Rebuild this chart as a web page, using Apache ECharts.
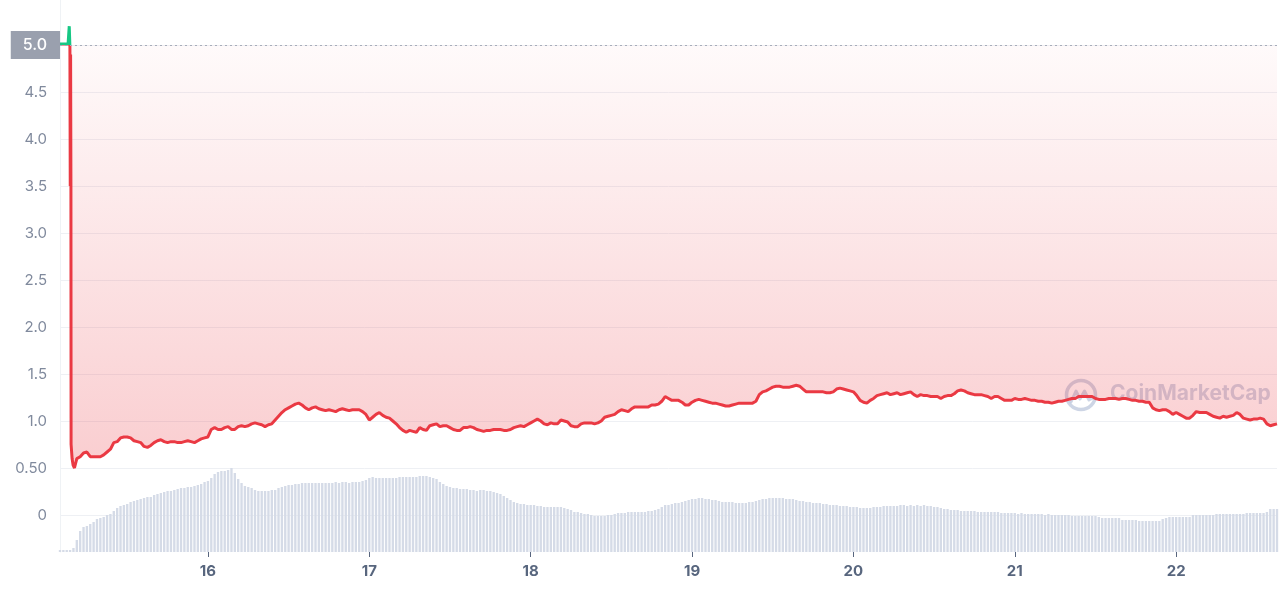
<!DOCTYPE html>
<html>
<head>
<meta charset="utf-8">
<script src="https://cdn.jsdelivr.net/npm/echarts@6/dist/echarts.min.js"></script>
<style>
  html, body { margin: 0; padding: 0; background: #ffffff; }
  #chart { width: 1280px; height: 590px; }
</style>
</head>
<body>
<div id="chart"></div>
<script>
// ---- Data (30-minute steps starting on the 15th at 02:00) ----
const startDay = 15;
const startMinutes = 120;      // 02:00
const stepMinutes = 30;
const pointCount = 363;

// Y-axis tick labels (0 .. 5.0 in steps of 0.5)
const yTickLabels = ['0', '0.50', '1.0', '1.5', '2.0', '2.5', '3.0', '3.5', '4.0', '4.5', '5.0'];

// Opening spike (fractional step positions) and price
const openingX = [0, 2.4, 2.75, 2.95, 3.05, 3.15, 3.25, 3.3, 3.6, 3.9, 4.3];
const openingP = [5.01, 5.01, 5.2, 4.98, 3.5, 4.9, 3.5, 0.75, 0.6, 0.53, 0.5];

// Regular price values, from step index 5 to 362
const priceStart = 5;
const priceValues = [
  0.60,0.62,0.66,0.67,0.62,0.62,0.62,0.62,0.64,0.67,
  0.70,0.77,0.78,0.82,0.83,0.83,0.82,0.79,0.78,0.77,
  0.73,0.72,0.74,0.77,0.79,0.80,0.78,0.77,0.78,0.78,
  0.77,0.77,0.78,0.79,0.78,0.77,0.79,0.81,0.82,0.83,
  0.91,0.93,0.91,0.91,0.93,0.94,0.91,0.91,0.94,0.95,
  0.94,0.95,0.97,0.98,0.97,0.96,0.94,0.96,0.97,1.01,
  1.05,1.09,1.12,1.14,1.16,1.18,1.19,1.17,1.14,1.12,
  1.14,1.15,1.13,1.12,1.11,1.12,1.11,1.10,1.12,1.13,
  1.12,1.11,1.12,1.12,1.12,1.10,1.07,1.01,1.04,1.07,
  1.09,1.06,1.04,1.03,1.00,0.97,0.93,0.90,0.88,0.90,
  0.89,0.88,0.93,0.91,0.90,0.95,0.96,0.97,0.94,0.95,
  0.95,0.93,0.91,0.90,0.90,0.93,0.93,0.94,0.93,0.91,
  0.90,0.89,0.90,0.90,0.91,0.91,0.91,0.90,0.90,0.91,
  0.93,0.94,0.95,0.94,0.96,0.98,1.00,1.02,1.00,0.97,
  0.96,0.98,0.97,0.97,1.01,1.00,0.99,0.95,0.94,0.94,
  0.97,0.98,0.98,0.98,0.97,0.98,1.00,1.04,1.05,1.06,
  1.07,1.10,1.12,1.11,1.10,1.13,1.15,1.15,1.15,1.15,
  1.15,1.17,1.17,1.18,1.21,1.26,1.24,1.22,1.22,1.22,
  1.20,1.17,1.17,1.20,1.22,1.23,1.22,1.21,1.20,1.19,
  1.19,1.18,1.17,1.16,1.16,1.17,1.18,1.19,1.19,1.19,
  1.19,1.19,1.21,1.28,1.31,1.32,1.34,1.36,1.37,1.37,
  1.36,1.36,1.36,1.37,1.38,1.37,1.34,1.31,1.31,1.31,
  1.31,1.31,1.31,1.30,1.30,1.31,1.34,1.35,1.34,1.33,
  1.32,1.31,1.27,1.22,1.20,1.19,1.22,1.24,1.27,1.28,
  1.29,1.30,1.28,1.29,1.30,1.28,1.29,1.30,1.31,1.28,
  1.26,1.28,1.27,1.27,1.26,1.26,1.26,1.24,1.26,1.27,
  1.27,1.29,1.32,1.33,1.32,1.30,1.29,1.28,1.28,1.28,
  1.27,1.26,1.24,1.26,1.26,1.24,1.22,1.22,1.22,1.24,
  1.23,1.23,1.24,1.23,1.22,1.22,1.21,1.21,1.20,1.20,
  1.19,1.20,1.21,1.21,1.22,1.23,1.24,1.24,1.26,1.26,
  1.26,1.26,1.26,1.24,1.23,1.23,1.23,1.24,1.24,1.24,
  1.23,1.24,1.24,1.23,1.22,1.22,1.21,1.21,1.20,1.20,
  1.14,1.12,1.11,1.12,1.12,1.10,1.07,1.09,1.07,1.05,
  1.03,1.03,1.06,1.10,1.09,1.09,1.09,1.07,1.05,1.04,
  1.03,1.05,1.04,1.05,1.06,1.09,1.07,1.03,1.02,1.01,
  1.02,1.02,1.03,1.02,0.97,0.95,0.96,0.97
];

// Volume (relative units), one bar per step index 0..362
const volumeValues = [
  0.2,0.2,0.2,0.2,0.4,1.2,2.1,2.5,2.6,2.8,
  3.0,3.3,3.4,3.5,3.7,3.8,4.1,4.4,4.6,4.7,
  4.8,5.0,5.1,5.2,5.3,5.4,5.5,5.5,5.7,5.8,
  5.9,6.0,6.1,6.1,6.2,6.3,6.4,6.4,6.5,6.5,
  6.6,6.7,6.8,7.0,7.1,7.4,7.8,8.0,8.1,8.1,
  8.2,8.4,7.9,7.3,6.9,6.6,6.5,6.4,6.2,6.1,
  6.1,6.1,6.1,6.2,6.2,6.4,6.5,6.6,6.7,6.7,
  6.8,6.8,6.9,6.9,6.9,6.9,6.9,6.9,6.9,6.9,
  6.9,6.9,7.0,6.9,7.0,7.0,6.9,7.0,7.0,7.0,
  7.1,7.2,7.4,7.5,7.4,7.4,7.4,7.4,7.4,7.4,
  7.4,7.5,7.5,7.5,7.5,7.5,7.5,7.6,7.6,7.6,
  7.5,7.4,7.3,7.0,6.8,6.6,6.5,6.4,6.4,6.3,
  6.3,6.3,6.2,6.2,6.1,6.2,6.2,6.1,6.1,6.0,
  5.9,5.8,5.6,5.4,5.2,5.0,4.9,4.8,4.8,4.7,
  4.7,4.7,4.6,4.6,4.5,4.5,4.5,4.5,4.5,4.5,
  4.4,4.3,4.2,4.0,4.0,3.9,3.8,3.8,3.7,3.6,
  3.6,3.6,3.6,3.7,3.7,3.8,3.9,3.9,3.9,4.0,
  4.0,4.0,4.0,4.0,4.0,4.1,4.1,4.2,4.3,4.5,
  4.7,4.7,4.8,4.9,4.9,5.0,5.1,5.2,5.3,5.3,
  5.4,5.4,5.3,5.3,5.2,5.2,5.1,5.0,5.0,5.0,
  5.0,4.9,4.9,4.9,4.9,5.0,5.0,5.1,5.2,5.3,
  5.3,5.4,5.4,5.4,5.4,5.4,5.3,5.3,5.3,5.2,
  5.1,5.1,5.0,5.0,4.9,4.9,4.9,4.8,4.8,4.7,
  4.7,4.7,4.6,4.6,4.6,4.5,4.5,4.5,4.4,4.4,
  4.4,4.4,4.5,4.5,4.5,4.6,4.6,4.6,4.6,4.6,
  4.7,4.7,4.6,4.7,4.6,4.7,4.6,4.7,4.6,4.6,
  4.5,4.5,4.4,4.3,4.3,4.2,4.2,4.2,4.1,4.1,
  4.1,4.1,4.1,4.0,4.0,4.0,4.0,4.0,4.0,4.0,
  3.9,3.9,3.9,3.9,3.9,3.8,3.9,3.8,3.8,3.8,
  3.8,3.8,3.8,3.7,3.8,3.7,3.7,3.7,3.7,3.7,
  3.7,3.6,3.6,3.6,3.6,3.6,3.6,3.6,3.6,3.5,
  3.4,3.4,3.4,3.4,3.4,3.4,3.2,3.2,3.2,3.2,
  3.2,3.1,3.1,3.1,3.1,3.1,3.1,3.1,3.3,3.4,
  3.5,3.5,3.5,3.5,3.5,3.5,3.5,3.7,3.7,3.7,
  3.7,3.7,3.7,3.7,3.8,3.8,3.8,3.8,3.8,3.8,
  3.8,3.8,3.8,3.9,3.9,3.9,3.9,3.9,3.9,4.0,
  4.3,4.3,4.3
];

// Category labels: "DD HH:MM"
const categories = [];
for (let i = 0; i < pointCount; i++) {
  const m = startMinutes + i * stepMinutes;
  const d = startDay + Math.floor(m / 1440);
  const mm = m % 1440;
  const hh = String(Math.floor(mm / 60)).padStart(2, '0');
  const mi = String(mm % 60).padStart(2, '0');
  categories.push(d + ' ' + hh + ':' + mi);
}
const isDayStart = (idx, val) => String(val).endsWith('00:00');

const priceData = openingX.map((x, k) => [x, openingP[k]])
  .concat(priceValues.map((p, k) => [k + priceStart, p]));

const FONT = 'Inter, "Noto Sans", sans-serif';
const chart = echarts.init(document.getElementById('chart'), null, { renderer: 'canvas' });

const wmColor = 'rgba(192,202,222,0.8)';

const option = {
  animation: false,
  backgroundColor: '#ffffff',
  grid: [
    { left: 60, right: 3, top: 0, bottom: 38 },
    { left: 60, right: 3, top: 45, bottom: 75 }
  ],
  xAxis: [
    {
      type: 'category', gridIndex: 0, data: categories, boundaryGap: false,
      axisLine: { show: false },
      axisTick: { show: true, interval: isDayStart, length: 5, lineStyle: { color: '#58667e', width: 1 } },
      axisLabel: {
        interval: isDayStart,
        formatter: (v) => String(v).split(' ')[0],
        color: '#58667e', fontSize: 15, fontWeight: 'bold', margin: 12, fontFamily: FONT
      },
      splitLine: { show: false }
    },
    { type: 'value', gridIndex: 1, min: 0, max: pointCount - 1, show: false }
  ],
  yAxis: [
    {
      type: 'value', gridIndex: 0, min: 0, max: 55.2,
      axisLabel: { show: false }, axisTick: { show: false },
      splitLine: { show: false },
      axisLine: { show: true, lineStyle: { color: '#eff2f5' } }
    },
    {
      type: 'value', gridIndex: 1, min: 0, max: 5, interval: 0.5,
      axisLine: { show: false }, axisTick: { show: false },
      splitLine: { show: true, lineStyle: { color: '#eef0f4', width: 1 } },
      axisLabel: {
        showMaxLabel: false,
        formatter: (v) => yTickLabels[Math.round(v / 0.5)],
        color: '#808a9d', fontSize: 15, margin: 13, fontFamily: FONT
      }
    }
  ],
  visualMap: {
    type: 'piecewise', show: false, seriesIndex: 1, dimension: 1,
    pieces: [
      { gt: 5.0, lte: 6.0, color: '#16c784' },
      { gte: 0, lte: 5.0, color: '#ea3943' }
    ]
  },
  graphic: [
    {
      type: 'group', left: 1064, top: 378, z: 100, silent: true,
      children: [
        { type: 'circle', shape: { cx: 16, cy: 17, r: 14.5 }, style: { fill: 'none', stroke: wmColor, lineWidth: 3.5 } },
        { type: 'polyline', shape: { points: [[6, 24], [11, 13], [15, 21], [19.5, 13], [24, 22], [30, 19]] },
          style: { fill: 'none', stroke: wmColor, lineWidth: 3, lineJoin: 'round', lineCap: 'round' } },
        { type: 'text', x: 45, y: 5, style: { text: 'CoinMarketCap', font: 'bold 21px ' + FONT, fill: wmColor } }
      ]
    }
  ],
  series: [
    {
      type: 'bar', xAxisIndex: 0, yAxisIndex: 0, data: volumeValues,
      barCategoryGap: '30%', silent: true, z: 1,
      itemStyle: { color: '#d5dbe7' }
    },
    {
      type: 'line', xAxisIndex: 1, yAxisIndex: 1, data: priceData,
      showSymbol: false, symbol: 'none', clip: false, z: 3,
      lineStyle: { width: 3 },
      areaStyle: {
        origin: 'end',
        color: {
          type: 'linear', x: 0, y: 0, x2: 0, y2: 1,
          colorStops: [
            { offset: 0, color: 'rgba(234,57,67,0.02)' },
            { offset: 1, color: 'rgba(234,57,67,0.36)' }
          ]
        }
      },
      markLine: {
        silent: true, symbol: 'none',
        lineStyle: { type: [2, 3], color: '#a6adba', width: 1 },
        label: {
          show: true, position: 'start', formatter: '5.0',
          color: '#ffffff', backgroundColor: '#9aa0ae',
          padding: [6, 13, 6, 12], fontSize: 16, fontWeight: 500, fontFamily: FONT,
          distance: 0
        },
        data: [{ yAxis: 5.0 }]
      }
    }
  ]
};

chart.setOption(option);
</script>
</body>
</html>
